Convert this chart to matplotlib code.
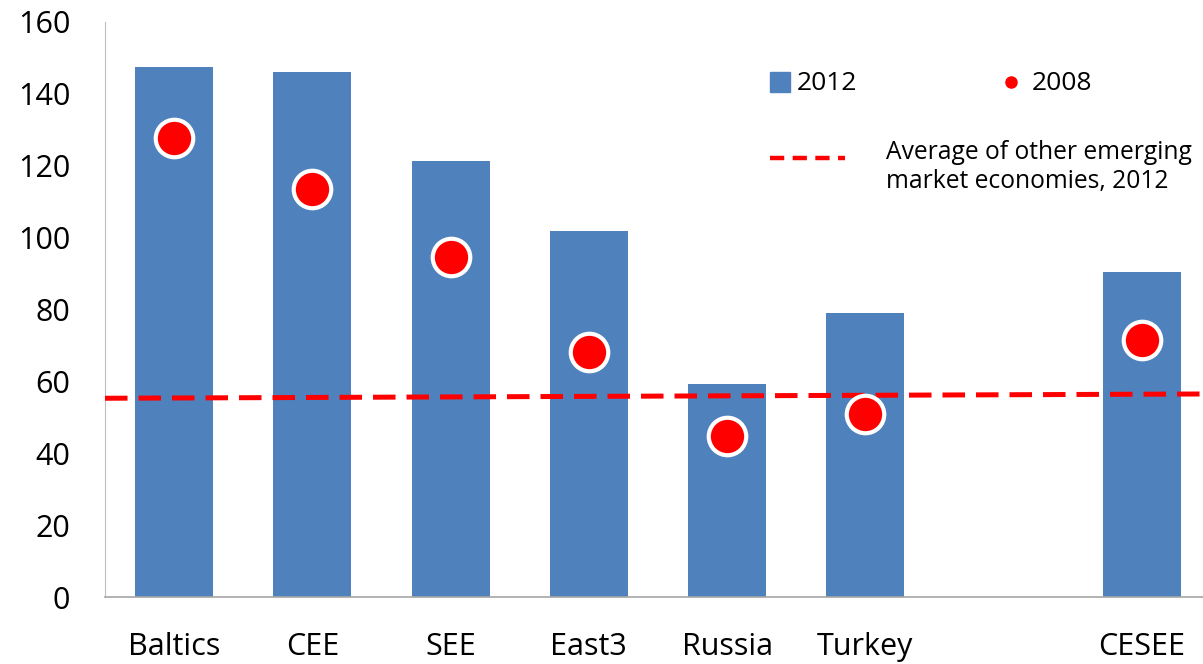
import numpy as np
import matplotlib.pyplot as plt
from matplotlib.lines import Line2D

plt.rcParams['font.family'] = ['Open Sans', 'DejaVu Sans']

#Data
regions = ['Baltics', 'CEE', 'SEE', 'East3', 'Russia', 'Turkey', '', 'CESEE']
val_2012 = [147.6, 146.2, 121.4, 101.9, 59.3, 79.1, np.nan, 90.5]
val_2008 = [127.6, 113.4, 94.7, 68.2, 44.8, 51.0, np.nan, 71.6]
avg_em_2012 = [55.3, 56.5]   # line drawn across the full axis
yticks = [0, 20, 40, 60, 80, 100, 120, 140, 160]

blue = '#4F81BD'
red = '#FF0000'

fig = plt.figure(figsize=(12.03, 6.64), dpi=100)
ax = fig.add_axes([0.0873, 0.1009, 0.9193, 0.866])

x = np.arange(len(regions))
ax.bar(x, val_2012, width=0.565, color=blue, zorder=2)
ax.plot([-0.5, len(regions) - 0.5], avg_em_2012, color=red, lw=3.6,
        dashes=(4.5, 2.2), zorder=3)
ax.plot(x, val_2008, 'o', ms=27, mfc=red, mec='white', mew=3.0, zorder=4)

#Axes styling
ax.set_xlim(-0.5, len(regions) - 0.5)
ax.set_ylim(0, 160)
ax.set_yticks(yticks)
ax.set_xticks(x)
ax.set_xticklabels(regions, fontsize=22)
ax.tick_params(axis='y', labelsize=22, length=0, pad=25)
ax.tick_params(axis='x', length=0, pad=25)
for s in ['top', 'right']:
    ax.spines[s].set_visible(False)
ax.spines['left'].set_color('#BFBFBF')
ax.spines['left'].set_linewidth(0.8)
ax.spines['bottom'].set_color('#A6A6A6')
ax.spines['bottom'].set_linewidth(1.2)

#Legend, laid out by hand
t = ax.transAxes
ax.add_line(Line2D([0.610], [0.896], marker='s', ms=15, mfc=blue, mec=blue,
                   transform=t, clip_on=False))
ax.text(0.6257, 0.893, '2012', transform=t, fontsize=19, va='center')
ax.add_line(Line2D([0.819], [0.896], marker='o', ms=8, mfc=red, mec=red,
                   transform=t, clip_on=False))
ax.text(0.838, 0.893, '2008', transform=t, fontsize=19, va='center')
ax.add_line(Line2D([0.601, 0.669], [0.763, 0.763], color=red, lw=3.2,
                   dashes=(3.2, 1.9), transform=t, clip_on=False))
ax.text(0.706, 0.748, 'Average of other emerging\nmarket economies, 2012',
        transform=t, fontsize=17.7, va='center', linespacing=1.25)

plt.savefig('out.png', dpi=100)
